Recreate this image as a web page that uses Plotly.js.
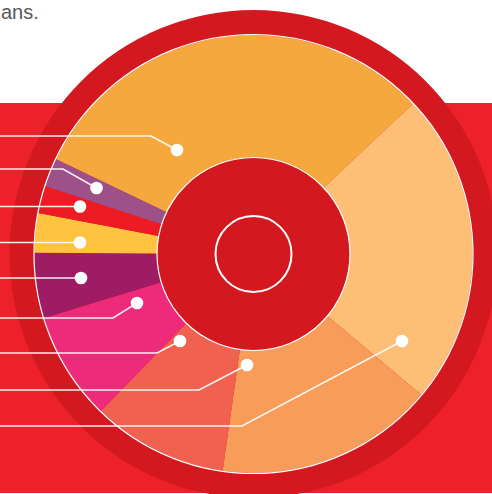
<!DOCTYPE html>
<html>
<head>
<meta charset="utf-8">
<script src="https://cdn.plot.ly/plotly-3.0.1.min.js"></script>
<style>
  html, body { margin: 0; padding: 0; background: #ffffff; }
  #chart { width: 492px; height: 494px; }
</style>
</head>
<body>
<div id="chart"></div>
<script>
// ---- data (share of the donut in %) ----
const categories = ["Segment 1", "Segment 2", "Segment 3", "Segment 4", "Segment 5",
                    "Segment 6", "Segment 7", "Segment 8", "Segment 9"];
const shares = [30.8, 23.1, 16.1, 10.0, 8.0, 4.8, 2.9, 2.0, 2.1];
const sliceColors = ["#F5A83D", "#FDBE75", "#F79C59", "#F0624F", "#EE2A7B",
                     "#9D1C63", "#FEC341", "#ED1C24", "#9E5089"];
const captionText = "ans.";

// ---- layout geometry (pixels in a 492 x 494 page) ----
const W = 492, H = 494;
const cx = 253.5, cy = 254, R = 219, holeR = 96.5, innerR = 38, ringR = 244;

// leader lines: [dotX, dotY, elbowX, lineY] for each category (same order)
const leaders = [
  [177, 150, 151, 136],
  [402, 341, 242, 426],
  [247, 365, 199, 390],
  [180, 341, 157, 353],
  [137, 303, 113, 318],
  [81, 278, 81, 278],
  [80, 242.5, 80, 242.5],
  [80, 206.5, 80, 206.5],
  [96.5, 188, 63, 169]
];

const shapes = [];
// red band behind the donut
shapes.push({type: "rect", xref: "x", yref: "y", x0: 0, x1: W, y0: 103, y1: 493,
             fillcolor: "#ED2129", line: {width: 0}, layer: "below"});
// dark red disk (outer ring + hole colour)
shapes.push({type: "circle", xref: "x", yref: "y", x0: cx - ringR, x1: cx + ringR,
             y0: cy - ringR, y1: cy + ringR, fillcolor: "#D3191F", line: {width: 0}, layer: "below"});
// white outlines
[R + 0.5, holeR, innerR].forEach(function (r, i) {
  shapes.push({type: "circle", xref: "x", yref: "y", x0: cx - r, x1: cx + r,
               y0: cy - r, y1: cy + r, fillcolor: "rgba(0,0,0,0)",
               line: {color: "#ffffff", width: i === 2 ? 2 : 1.2}, layer: "above"});
});
// leader lines + dots
leaders.forEach(function (l) {
  const path = "M0," + l[3] + " L" + l[2] + "," + l[3] + " L" + l[0] + "," + l[1];
  shapes.push({type: "path", xref: "x", yref: "y", path: path,
               line: {color: "rgba(255,255,255,0.92)", width: 1.5}, layer: "above"});
  shapes.push({type: "circle", xref: "x", yref: "y", x0: l[0] - 6.3, x1: l[0] + 6.3,
               y0: l[1] - 6.3, y1: l[1] + 6.3, fillcolor: "#ffffff",
               line: {width: 0}, layer: "above"});
});

const data = [{
  type: "pie",
  labels: categories,
  values: shares,
  marker: {colors: sliceColors, line: {width: 0}},
  sort: false,
  direction: "clockwise",
  rotation: 295.6,
  hole: holeR / R,
  textinfo: "none",
  hoverinfo: "label+percent",
  showlegend: false,
  domain: {
    x: [(cx - R) / W, (cx + R) / W],
    y: [(H - cy - R) / H, (H - cy + R) / H]
  }
}];

const layout = {
  width: W, height: H,
  margin: {l: 0, r: 0, t: 0, b: 0},
  paper_bgcolor: "#ffffff",
  plot_bgcolor: "rgba(0,0,0,0)",
  showlegend: false,
  xaxis: {range: [0, W], visible: false, fixedrange: true},
  yaxis: {range: [H, 0], visible: false, fixedrange: true},
  shapes: shapes,
  annotations: [{
    xref: "x", yref: "y", x: 0, y: 0, xanchor: "left", yanchor: "top",
    text: captionText, showarrow: false, borderpad: 0,
    font: {family: "Liberation Sans, Arial, sans-serif", size: 20, color: "#58595B"}
  }]
};

Plotly.newPlot("chart", data, layout, {displayModeBar: false, staticPlot: true});
</script>
</body>
</html>
